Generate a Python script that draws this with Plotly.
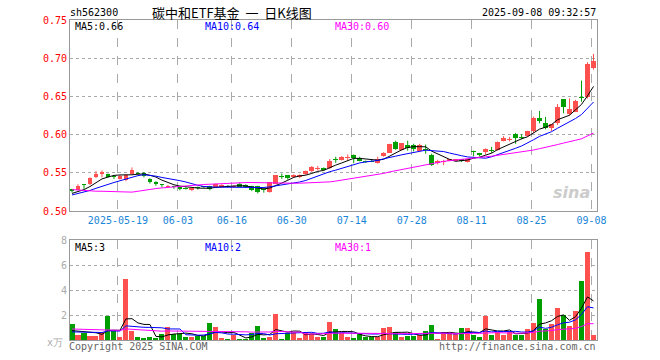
import numpy as np
import pandas as pd
import plotly.graph_objects as go

# ---------------- data ----------------
dates = [d.strftime("%Y-%m-%d") for d in pd.bdate_range("2025-05-07", "2025-09-08")
         if d.strftime("%Y-%m-%d") != "2025-06-02"]
tick_dates = ["2025-05-19", "2025-06-03", "2025-06-16", "2025-06-30", "2025-07-14",
              "2025-07-28", "2025-08-11", "2025-08-25", "2025-09-08"]
tick_text = ["2025-05-19", "06-03", "06-16", "06-30", "07-14", "07-28", "08-11", "08-25", "09-08"]

opens = [
    0.528, 0.528, 0.535, 0.535, 0.545, 0.548, 0.548, 0.546, 0.542, 0.540,
    0.549, 0.550, 0.550, 0.542, 0.538, 0.535, 0.532, 0.533, 0.531, 0.530,
    0.5275, 0.5305, 0.532, 0.5325, 0.531, 0.532, 0.533, 0.532, 0.536, 0.534,
    0.533, 0.533, 0.528, 0.5255, 0.536, 0.546, 0.547, 0.545, 0.544, 0.548,
    0.552, 0.5555, 0.556, 0.556, 0.568, 0.567, 0.5695, 0.5733, 0.570, 0.5648,
    0.566, 0.5624, 0.572, 0.5763, 0.5898, 0.5798, 0.586, 0.587, 0.578, 0.581,
    0.5733, 0.563, 0.5645, 0.5654, 0.5654, 0.567, 0.5645, 0.5785, 0.5755, 0.5777,
    0.580, 0.5799, 0.592, 0.5935, 0.601, 0.597, 0.5982, 0.6047, 0.6214, 0.6148,
    0.609, 0.6148, 0.6464, 0.6267, 0.6302, 0.649, 0.6486, 0.6868]
highs = [
    0.529, 0.535, 0.535, 0.544, 0.552, 0.553, 0.549, 0.547, 0.547, 0.548,
    0.557, 0.551, 0.551, 0.543, 0.539, 0.535, 0.534, 0.533, 0.532, 0.531,
    0.530, 0.532, 0.532, 0.533, 0.536, 0.535, 0.534, 0.534, 0.537, 0.535,
    0.533, 0.533, 0.531, 0.538, 0.547, 0.549, 0.547, 0.548, 0.548, 0.553,
    0.559, 0.559, 0.557, 0.568, 0.571, 0.572, 0.574, 0.574, 0.571, 0.566,
    0.567, 0.571, 0.577, 0.588, 0.592, 0.589, 0.592, 0.588, 0.588, 0.587,
    0.575, 0.567, 0.567, 0.568, 0.568, 0.568, 0.568, 0.579, 0.576, 0.582,
    0.584, 0.591, 0.598, 0.597, 0.602, 0.6004, 0.605, 0.6236, 0.631, 0.6231,
    0.614, 0.640, 0.6465, 0.6473, 0.6455, 0.6706, 0.6947, 0.7057]
lows = [
    0.524, 0.527, 0.529, 0.534, 0.543, 0.544, 0.544, 0.542, 0.541, 0.539,
    0.548, 0.548, 0.544, 0.536, 0.533, 0.531, 0.531, 0.529, 0.527, 0.528,
    0.526, 0.528, 0.530, 0.527, 0.530, 0.531, 0.531, 0.531, 0.531, 0.530,
    0.526, 0.523, 0.524, 0.524, 0.535, 0.542, 0.541, 0.543, 0.543, 0.547,
    0.551, 0.553, 0.553, 0.555, 0.563, 0.566, 0.566, 0.5625, 0.565, 0.563,
    0.564, 0.562, 0.571, 0.576, 0.580, 0.579, 0.579, 0.578, 0.577, 0.575,
    0.559, 0.561, 0.560, 0.565, 0.565, 0.564, 0.5635, 0.5715, 0.5715, 0.5737,
    0.576, 0.579, 0.5911, 0.591, 0.588, 0.5938, 0.597, 0.6025, 0.6148, 0.6069,
    0.6047, 0.6126, 0.628, 0.6254, 0.6295, 0.643, 0.6473, 0.685]
closes = [
    0.527, 0.533, 0.534, 0.543, 0.549, 0.551, 0.545, 0.545, 0.546, 0.547,
    0.554, 0.549, 0.546, 0.538, 0.535, 0.534, 0.533, 0.532, 0.529, 0.5295,
    0.5295, 0.530, 0.531, 0.529, 0.535, 0.534, 0.532, 0.533, 0.532, 0.532,
    0.528, 0.525, 0.5275, 0.538, 0.547, 0.5455, 0.543, 0.547, 0.547, 0.552,
    0.557, 0.556, 0.554, 0.566, 0.5675, 0.571, 0.570, 0.570, 0.566, 0.5645,
    0.5645, 0.5676, 0.5763, 0.5872, 0.5807, 0.5885, 0.583, 0.5816, 0.587, 0.580,
    0.5602, 0.565, 0.565, 0.5675, 0.5675, 0.5665, 0.5675, 0.5767, 0.5737, 0.5811,
    0.5795, 0.5908, 0.5951, 0.5942, 0.596, 0.5965, 0.6043, 0.6214, 0.6179, 0.6082,
    0.6135, 0.6363, 0.6355, 0.6333, 0.6438, 0.6486, 0.6925, 0.6969]
volumes = [
    1.28, 0.40, 0.59, 0.32, 0.32, 0.61, 1.95, 0.72, 0.27, 4.88,
    0.72, 0.24, 0.13, 0.24, 0.13, 0.48, 1.04, 0.48, 0.48, 0.27,
    0.24, 0.35, 0.29, 1.36, 1.04, 0.16, 0.08, 0.40, 0.08, 0.10,
    0.56, 1.12, 0.19, 0.27, 2.05, 0.08, 0.53, 0.67, 0.19, 0.61,
    0.45, 0.27, 0.27, 1.47, 0.88, 0.53, 0.27, 0.13, 0.45, 0.27,
    0.24, 0.24, 0.93, 1.04, 0.61, 0.24, 0.32, 0.32, 0.40, 0.72,
    1.20, 0.08, 0.61, 0.45, 0.45, 0.93, 0.93, 0.40, 0.24, 1.95,
    0.40, 0.61, 0.40, 0.67, 0.40, 0.40, 0.88, 1.39, 3.28, 0.88,
    1.28, 2.59, 2.00, 1.12, 2.32, 4.72, 7.07, 0.40]
# sessions before the visible window (estimated so that the moving averages start where shown)
earlier_closes = [
    0.552, 0.556, 0.558, 0.555, 0.553, 0.556, 0.554, 0.551, 0.555, 0.556,
    0.515, 0.505, 0.502, 0.506, 0.508, 0.510, 0.509, 0.508, 0.510, 0.511,
    0.515, 0.517, 0.519, 0.521, 0.523, 0.520, 0.522, 0.523, 0.523]
earlier_volumes = [
    1.0, 0.9, 1.1, 1.0, 0.9, 1.2, 1.3, 1.0, 1.5, 1.78,
    1.9, 1.2, 0.9, 0.8, 0.7, 0.6, 0.6, 0.52, 0.5, 0.5,
    0.55, 0.6, 0.5, 0.55, 0.55, 0.6, 0.55, 0.62, 0.7]

# ---------------- derived ----------------
RED, GREEN = "#ff5050", "#009f00"
n = len(closes)
x = np.arange(n)
o, h, l, c = map(np.array, (opens, highs, lows, closes))
v = np.array(volumes)
up = c >= o


def ma(prev, vals, k):
    s = pd.Series(list(prev) + list(vals)).rolling(k).mean()
    return s.iloc[len(prev):].values


ma5, ma10, ma30 = (ma(earlier_closes, closes, k) for k in (5, 10, 30))
vma5, vma10, vma30 = (ma(earlier_volumes, volumes, k) for k in (5, 10, 30))

min_h = 0.0014
body_h = np.maximum(np.abs(c - o), min_h)
body_base = (o + c) / 2 - body_h / 2

fig = go.Figure()


def wick(mask, color):
    xs, ys = [], []
    for i in np.where(mask)[0]:
        xs += [i, i, None]
        ys += [l[i], h[i], None]
    fig.add_trace(go.Scatter(x=xs, y=ys, mode="lines", line=dict(color=color, width=1),
                             hoverinfo="skip", xaxis="x", yaxis="y"))


wick(up, RED)
wick(~up, GREEN)
for mask, color in ((up, RED), (~up, GREEN)):
    fig.add_trace(go.Bar(x=x[mask], y=body_h[mask], base=body_base[mask], width=0.8,
                         marker=dict(color=color, line=dict(width=0)), xaxis="x", yaxis="y"))
    fig.add_trace(go.Bar(x=x[mask], y=v[mask], width=0.84,
                         marker=dict(color=color, line=dict(width=0)), xaxis="x2", yaxis="y2"))

for series, color, ax in ((ma5, "black", "y"), (ma10, "#0000ff", "y"), (ma30, "#ff00ff", "y"),
                          (vma5, "black", "y2"), (vma10, "#0000ff", "y2"), (vma30, "#ff00ff", "y2")):
    fig.add_trace(go.Scatter(x=x, y=series, mode="lines", line=dict(color=color, width=1),
                             xaxis="x" if ax == "y" else "x2", yaxis=ax))

# ---------------- layout ----------------
L, R, T, B = 70, 597.5, 20, 340
W, H = 660, 360


def px(xp):
    return (xp - L) / (R - L)


def py(yp):
    return (B - yp) / (B - T)


MONO = "DejaVu Sans Mono"
tickvals = [dates.index(d) - 1 / 3 for d in tick_dates]
xrange = [-1 / 3, (R - L) / 6 - 1 / 3]
common_x = dict(range=xrange, tickvals=tickvals, showgrid=True, gridcolor="#aaaaaa",
                griddash="dash", gridwidth=1, showline=True, linecolor="#999999", linewidth=1,
                mirror=True, zeroline=False, ticks="", fixedrange=True)
common_y = dict(showgrid=True, gridcolor="#aaaaaa", griddash="dot", gridwidth=1, showline=True,
                linecolor="#999999", linewidth=1, mirror=True, zeroline=False, ticks="",
                fixedrange=True)

fig.update_layout(
    width=W, height=H, margin=dict(l=L, r=W - R, t=T, b=H - B, pad=0),
    paper_bgcolor="white", plot_bgcolor="white", showlegend=False,
    barmode="overlay", bargap=0, hovermode=False,
    xaxis=dict(domain=[0, 1], anchor="y", ticktext=tick_text,
               tickfont=dict(family=MONO, size=10, color="#1a86d8"), **common_x),
    yaxis=dict(domain=[py(211), 1], range=[0.5, 0.75],
               tickvals=[0.5, 0.55, 0.6, 0.65, 0.7, 0.75],
               ticktext=["0.50", "0.55", "0.60", "0.65", "0.70", "0.75"],
               tickfont=dict(family=MONO, size=10, color="#ff0000"), **common_y),
    xaxis2=dict(domain=[0, 1], anchor="y2", showticklabels=False, **common_x),
    yaxis2=dict(domain=[0, py(240)], range=[0, 8], tickvals=[2, 4, 6, 8],
                ticktext=["2", "4", "6", "8"],
                tickfont=dict(family=MONO, size=10, color="#aaaaaa"), **common_y),
)


def note(text, xp, yp, anchor="left", color="black", size=10, family=MONO):
    fig.add_annotation(text=text, x=px(xp), y=py(yp), xref="paper", yref="paper",
                       xanchor=anchor, yanchor="middle", showarrow=False,
                       font=dict(family=family, size=size, color=color))


note("sh562300", 68, 12)
note("碳中和ETF基金  一  日K线图", 232, 12, anchor="center", size=13, family="Noto Sans CJK SC")
note("2025-09-08 09:32:57", 599, 12, anchor="right")
note(f"MA5:{ma5[-1]:.2f}", 73, 27)
note(f"MA10:{ma10[-1]:.2f}", 203, 27, color="#0000ff")
note(f"MA30:{ma30[-1]:.2f}", 333, 27, color="#ff00ff")
note(f"MA5:{int(vma5[-1])}", 73, 247)
note(f"MA10:{int(vma10[-1])}", 203, 247, color="#0000ff")
note(f"MA30:{int(vma30[-1])}", 333, 247, color="#ff00ff")
note("Copyright 2025 SINA.COM", 67, 346, color="#666666")
note("http://finance.sina.com.cn", 599, 346, anchor="right", color="#666666")
note("x万", 65, 342, anchor="right", color="#aaaaaa")
note("<b><i>sina</i></b>", 572, 192, anchor="center", color="#cccccc", size=16, family="DejaVu Sans")

fig.write_html("out.html", config={"displayModeBar": False, "staticPlot": True},
               post_script="document.body.style.margin='0';")
